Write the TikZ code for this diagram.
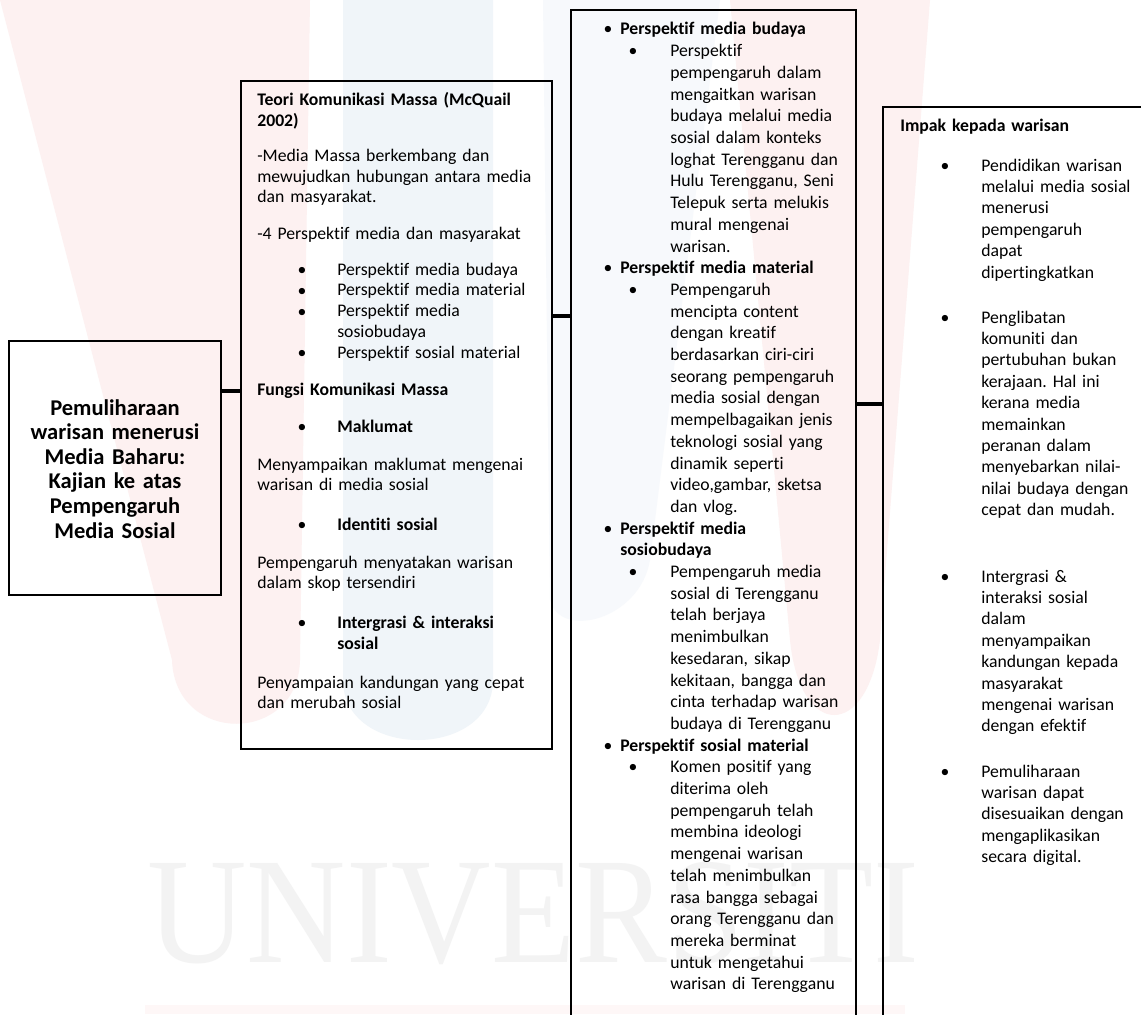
\documentclass[tikz,border=0pt]{standalone}
\usepackage{fontspec}
\usepackage{graphicx}
\setmainfont[Ligatures=NoCommon]{Carlito}
\newfontfamily\wmfont{Liberation Serif}
\usetikzlibrary{fit}
\definecolor{wmpink}{RGB}{253,241,241}
\definecolor{wmblue}{RGB}{240,245,249}
\definecolor{wmgray}{RGB}{243,243,243}
\frenchspacing
\begin{document}
\begin{tikzpicture}[x=0.62147pt, y=-0.62147pt,
  boxst/.style={draw=black, line width=0.7pt, inner sep=0pt},
  conn/.style={line width=2.5pt, black},
  tb/.style={anchor=base west, inner sep=0pt, text width=260pt, align=left},
  ttwo/.style={tb, font=\fontsize{11pt}{12.74pt}\selectfont},
  ttwob/.style={tb, font=\fontsize{11pt}{12.74pt}\selectfont\bfseries},
  tthree/.style={tb, font=\fontsize{11pt}{13.49pt}\selectfont},
  tthreeb/.style={tb, font=\fontsize{11pt}{13.49pt}\selectfont\bfseries},
  tfour/.style={tb, font=\fontsize{11pt}{13.3pt}\selectfont},
  tfourb/.style={tb, font=\fontsize{11pt}{13.3pt}\selectfont\bfseries},
  bul/.style={anchor=base, inner sep=0pt, font=\fontsize{11pt}{13pt}\selectfont}
]
\useasboundingbox (0,0) rectangle (1141,1014);
\clip (0,0) rectangle (1141,1014);
\fill[white] (0,0) rectangle (1141,1014);

% faint watermark
\fill[wmpink] (0,0) -- (310,0) -- (300,660) .. controls (298,745) and (175,745) .. (172,660) -- cycle;
\fill[wmblue] (343,0) -- (493,0) -- (493,680) .. controls (493,760) and (343,760) .. (343,680) -- cycle;
\fill[wmblue!55] (543,0) -- (720,0) -- (650,560) .. controls (640,620) and (560,640) .. (550,600) -- cycle;
\fill[wmpink] (730,0) -- (930,0) -- (880,640) .. controls (868,740) and (800,740) .. (790,640) -- cycle;
\fill[wmpink!60] (145,1005) rectangle (905,1014);
\node[anchor=base west, inner sep=0pt, text=wmgray, font=\wmfont\fontsize{94pt}{94pt}\selectfont] (wmtext) at (147,962) {\scalebox{0.91}[1]{UNIVERSITI}};

% boxes
\node[boxst, fit={(9,341) (221,595)}] (b1) {};
\node[boxst, fit={(241,81) (552,749)}] (b2) {};
\node[boxst, fit={(571,10) (856,1030)}] (b3) {};
\node[boxst, fit={(883,107) (1160,1030)}] (b4) {};

% connectors
\coordinate (k1) at (0,391);
\coordinate (k2) at (0,316);
\coordinate (k3) at (0,404);
\draw[conn] (b1.east |- k1) -- (b2.west |- k1);
\draw[conn] (b2.east |- k2) -- (b3.west |- k2);
\draw[conn] (b3.east |- k3) -- (b4.west |- k3);

% box 1
\node[anchor=base, inner sep=0pt, text width=135pt, align=center,
  font=\fontsize{14pt}{15.29pt}\selectfont\bfseries] (b1t) at (115,415)
  {Pemuliharaan\\warisan menerusi\\Media Baharu:\\Kajian ke atas\\Pempengaruh\\Media Sosial};

% box 2
\node[ttwob] (t2a) at (257,106) {Teori Komunikasi Massa (McQuail\\2002)};
\node[ttwo] (t2b) at (257,162) {-Media Massa berkembang dan\\mewujudkan hubungan antara media\\dan masyarakat.};
\node[ttwo] (t2c) at (257,239) {-4 Perspektif media dan masyarakat};
\node[tb, font=\fontsize{11pt}{12.9pt}\selectfont] (t2d) at (337,275) {Perspektif media budaya\\Perspektif media material\\Perspektif media\\sosiobudaya\\Perspektif sosial material};
\node[bul] (p1) at (302,275) {\textbullet};
\node[bul] (p2) at (302,296) {\textbullet};
\node[bul] (p3) at (302,317) {\textbullet};
\node[bul] (p4) at (302,358) {\textbullet};
\node[ttwob] (t2e) at (257,395) {Fungsi Komunikasi Massa};
\node[bul] (p5) at (302,432) {\textbullet};
\node[ttwob] (t2f) at (337,432) {Maklumat};
\node[ttwo] (t2g) at (257,470) {Menyampaikan maklumat mengenai\\warisan di media sosial};
\node[bul] (p6) at (302,530) {\textbullet};
\node[ttwob] (t2h) at (337,530) {Identiti sosial};
\node[ttwo] (t2i) at (257,568) {Pempengaruh menyatakan warisan\\dalam skop tersendiri};
\node[bul] (p7) at (302,628) {\textbullet};
\node[tb, font=\fontsize{11pt}{13.6pt}\selectfont\bfseries] (t2j) at (337,628) {Intergrasi \& interaksi\\sosial};
\node[ttwo] (t2k) at (257,688) {Penyampaian kandungan yang cepat\\dan merubah sosial};

% box 3
\node[bul] (q1) at (608,35) {\textbullet};
\node[tthreeb] (t3a) at (620,35) {Perspektif media budaya};
\node[bul] (r1) at (633,56.7) {\textbullet};
\node[tthree] (t3b) at (670,56.7) {Perspektif\\pempengaruh dalam\\mengaitkan warisan\\budaya melalui media\\sosial dalam konteks\\loghat Terengganu dan\\Hulu Terengganu, Seni\\Telepuk serta melukis\\mural mengenai\\warisan.};
\node[bul] (q2) at (608,273.7) {\textbullet};
\node[tthreeb] (t3c) at (620,273.7) {Perspektif media material};
\node[bul] (r2) at (633,295.4) {\textbullet};
\node[tthree] (t3d) at (670,295.4) {Pempengaruh\\mencipta content\\dengan kreatif\\berdasarkan ciri-ciri\\seorang pempengaruh\\media sosial dengan\\mempelbagaikan jenis\\teknologi sosial yang\\dinamik seperti\\video,gambar, sketsa\\dan vlog.};
\node[bul] (q3) at (608,534.1) {\textbullet};
\node[tthreeb] (t3e) at (620,534.1) {Perspektif media\\sosiobudaya};
\node[bul] (r3) at (633,577.5) {\textbullet};
\node[tthree] (t3f) at (670,577.5) {Pempengaruh media\\sosial di Terengganu\\telah berjaya\\menimbulkan\\kesedaran, sikap\\kekitaan, bangga dan\\cinta terhadap warisan\\budaya di Terengganu};
\node[bul] (q4) at (608,751.1) {\textbullet};
\node[tthreeb] (t3g) at (620,751.1) {Perspektif sosial material};
\node[bul] (r4) at (633,772.8) {\textbullet};
\node[tthree] (t3h) at (670,772.8) {Komen positif yang\\diterima oleh\\pempengaruh telah\\membina ideologi\\mengenai warisan\\telah menimbulkan\\rasa bangga sebagai\\orang Terengganu dan\\mereka berminat\\untuk mengetahui\\warisan di Terengganu};

% box 4
\node[tfourb] (t4a) at (900,132) {Impak kepada warisan};
\node[bul] (s1) at (945,171) {\textbullet};
\node[tfour] (t4b) at (981,171) {Pendidikan warisan\\melalui media sosial\\menerusi\\pempengaruh\\dapat\\dipertingkatkan};
\node[bul] (s2) at (945,323) {\textbullet};
\node[tfour] (t4c) at (981,323) {Penglibatan\\komuniti dan\\pertubuhan bukan\\kerajaan. Hal ini\\kerana media\\memainkan\\peranan dalam\\menyebarkan nilai-\\nilai budaya dengan\\cepat dan mudah.};
\node[bul] (s3) at (945,582) {\textbullet};
\node[tfour] (t4d) at (981,582) {Intergrasi \&\\interaksi sosial\\dalam\\menyampaikan\\kandungan kepada\\masyarakat\\mengenai warisan\\dengan efektif};
\node[bul] (s4) at (945,777) {\textbullet};
\node[tfour] (t4e) at (981,777) {Pemuliharaan\\warisan dapat\\disesuaikan dengan\\mengaplikasikan\\secara digital.};
\end{tikzpicture}
\end{document}
